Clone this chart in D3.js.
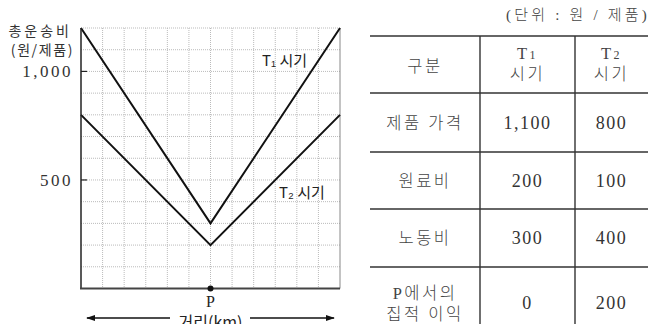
<!DOCTYPE html>
<html>
<head>
<meta charset="utf-8">
<script src="https://cdn.jsdelivr.net/npm/d3@7"></script>
<style>
  body { margin: 0; background: #fff; }
  svg { display: block; }
</style>
</head>
<body>
<div id="chart"></div>
<script>
// distance from P (grid units) and total transport cost per period
const distance = [0, 6, 12];
const costT1 = [1200, 300, 1200];
const costT2 = [800, 200, 800];
const yTicks = [500, 1000];
const lineLabels = ["T₁ 시기", "T₂ 시기"];

// table data
const tableHeader = ["구분", "T1|시기", "T2|시기"];
const rowLabels = ["제품 가격", "원료비", "노동비", "P에서의|집적 이익"];
const valuesT1 = ["1,100", "200", "300", "0"];
const valuesT2 = ["800", "100", "400", "200"];

const W = 662, H = 324;
const svg = d3.select("#chart").append("svg")
  .attr("width", W).attr("height", H);

const serif = "Liberation Serif, DejaVu Serif, serif";
const kr = "Noto Sans CJK KR, sans-serif";
const mixed = "Liberation Serif, Noto Sans CJK KR, serif";

// ---- chart ----
const x = d3.scaleLinear().domain([0, 12]).range([81, 340]);
const y = d3.scaleLinear().domain([0, 1200]).range([288.5, 28]);

const grid = svg.append("g");
grid.selectAll("line.v").data(d3.range(1, 12)).enter().append("line")
  .attr("x1", d => x(d)).attr("x2", d => x(d))
  .attr("y1", y(1200)).attr("y2", y(0))
  .attr("stroke", "#bbb").attr("stroke-width", 1)
  .attr("stroke-dasharray", "1,1");
grid.selectAll("line.h").data(d3.range(100, 1201, 100)).enter().append("line")
  .attr("x1", x(0)).attr("x2", x(12))
  .attr("y1", d => y(d)).attr("y2", d => y(d))
  .attr("stroke", "#bbb").attr("stroke-width", 1)
  .attr("stroke-dasharray", "1,1");

// right border
svg.append("line")
  .attr("x1", x(12)).attr("x2", x(12))
  .attr("y1", y(1200)).attr("y2", y(0))
  .attr("stroke", "#888").attr("stroke-width", 1);

const line = d3.line().x(d => x(d[0])).y(d => y(d[1]));
[costT1, costT2].forEach(series => {
  svg.append("path")
    .attr("d", line(distance.map((d, i) => [d, series[i]])))
    .attr("fill", "none").attr("stroke", "#111").attr("stroke-width", 2);
});

// axes
svg.append("line")
  .attr("x1", x(0)).attr("x2", x(0)).attr("y1", y(1200)).attr("y2", y(0))
  .attr("stroke", "#222").attr("stroke-width", 1.5);
svg.append("line")
  .attr("x1", x(0) - 1).attr("x2", x(12)).attr("y1", y(0)).attr("y2", y(0))
  .attr("stroke", "#444").attr("stroke-width", 2.2);

svg.selectAll("line.tick").data(yTicks).enter().append("line")
  .attr("x1", x(0)).attr("x2", x(0) + 6)
  .attr("y1", d => y(d)).attr("y2", d => y(d))
  .attr("stroke", "#222").attr("stroke-width", 1.2);
svg.selectAll("text.tick").data(yTicks).enter().append("text")
  .attr("x", x(0) - 8).attr("y", d => y(d) + 6)
  .attr("text-anchor", "end")
  .style("font-family", serif).attr("font-size", 17)
  .attr("letter-spacing", 2.5).attr("fill", "#333")
  .text(d => d3.format(",")(d));

// y title
svg.append("text").attr("x", 72).attr("y", 36).attr("text-anchor", "end")
  .style("font-family", kr).attr("font-size", 14).attr("letter-spacing", 3)
  .attr("fill", "#333").text("총운송비");
svg.append("text").attr("x", 74).attr("y", 55).attr("text-anchor", "end")
  .style("font-family", kr).attr("font-size", 14).attr("letter-spacing", 1.6)
  .attr("fill", "#333").text("(원/제품)");

// line labels
svg.append("text").attr("x", 262).attr("y", 66)
  .style("font-family", kr).attr("font-size", 15).attr("fill", "#222")
  .text(lineLabels[0]);
svg.append("text").attr("x", 279).attr("y", 198)
  .style("font-family", kr).attr("font-size", 15).attr("fill", "#222")
  .text(lineLabels[1]);

// P point
svg.append("circle").attr("cx", x(6)).attr("cy", y(0)).attr("r", 3).attr("fill", "#111");
svg.append("text").attr("x", x(6)).attr("y", 307).attr("text-anchor", "middle")
  .style("font-family", serif).attr("font-size", 16).attr("fill", "#222").text("P");

// distance arrow
const defs = svg.append("defs");
defs.append("marker").attr("id", "ah").attr("viewBox", "0 0 10 10")
  .attr("refX", 9).attr("refY", 5).attr("markerWidth", 7).attr("markerHeight", 7)
  .attr("orient", "auto-start-reverse")
  .append("path").attr("d", "M0,1.5 L10,5 L0,8.5 Z").attr("fill", "#111");
svg.append("line").attr("x1", 87).attr("x2", 334).attr("y1", 318).attr("y2", 318)
  .attr("stroke", "#111").attr("stroke-width", 1.3)
  .attr("marker-start", "url(#ah)").attr("marker-end", "url(#ah)");
svg.append("rect").attr("x", 170).attr("y", 311).attr("width", 80).attr("height", 13).attr("fill", "#fff");
svg.append("text").attr("x", x(6)).attr("y", 328).attr("text-anchor", "middle")
  .style("font-family", kr).attr("font-size", 16).attr("fill", "#222").text("거리(km)");

// ---- table ----
const colEdges = [370, 480, 575, 648];
const rowEdges = [36, 93, 152, 209, 267, 330];
const colMid = i => (colEdges[i] + colEdges[i + 1]) / 2;
const rowMid = i => (rowEdges[i] + rowEdges[i + 1]) / 2;

svg.append("text").attr("x", 650).attr("y", 20).attr("text-anchor", "end")
  .style("font-family", mixed).attr("font-size", 15).attr("fill", "#444")
  .attr("font-weight", 300).attr("letter-spacing", 3.2)
  .text("(단위 : 원 / 제품)");

svg.selectAll("line.row").data(rowEdges.slice(0, 5)).enter().append("line")
  .attr("x1", colEdges[0]).attr("x2", colEdges[3])
  .attr("y1", d => d).attr("y2", d => d)
  .attr("stroke", "#333").attr("stroke-width", 1.4);
svg.selectAll("line.col").data(colEdges.slice(1, 3)).enter().append("line")
  .attr("x1", d => d).attr("x2", d => d)
  .attr("y1", rowEdges[0]).attr("y2", H)
  .attr("stroke", "#333").attr("stroke-width", 1.4);

function cell(txt, cx, cy) {
  const parts = txt.split("|");
  const step = 21;
  parts.forEach((p, k) => {
    const ty = cy + (k - (parts.length - 1) / 2) * step + 6;
    const isNum = /^[\d,]+$/.test(p);
    const t = svg.append("text").attr("x", cx).attr("y", ty)
      .attr("text-anchor", "middle")
      .style("font-family", isNum ? serif : mixed)
      .attr("font-size", isNum ? 18 : 16.5)
      .attr("font-weight", isNum ? 400 : 300)
      .attr("fill", isNum ? "#333" : "#444")
      .attr("letter-spacing", isNum ? 1.5 : 2.5);
    const m = p.match(/^T(\d)$/);
    if (m) {
      t.append("tspan").text("T");
      t.append("tspan").attr("font-size", 12).text(m[1]);
    } else {
      t.text(p);
    }
  });
}

cell(tableHeader[0], colMid(0), rowMid(0) + 1);
cell(tableHeader[1], colMid(1), rowMid(0) - 1);
cell(tableHeader[2], colMid(2), rowMid(0) - 1);
rowLabels.forEach((r, i) => {
  const cy = i === 3 ? 303 : rowMid(i + 1);
  cell(r, colMid(0), cy);
  cell(valuesT1[i], colMid(1), cy);
  cell(valuesT2[i], colMid(2), cy);
});
</script>
</body>
</html>
